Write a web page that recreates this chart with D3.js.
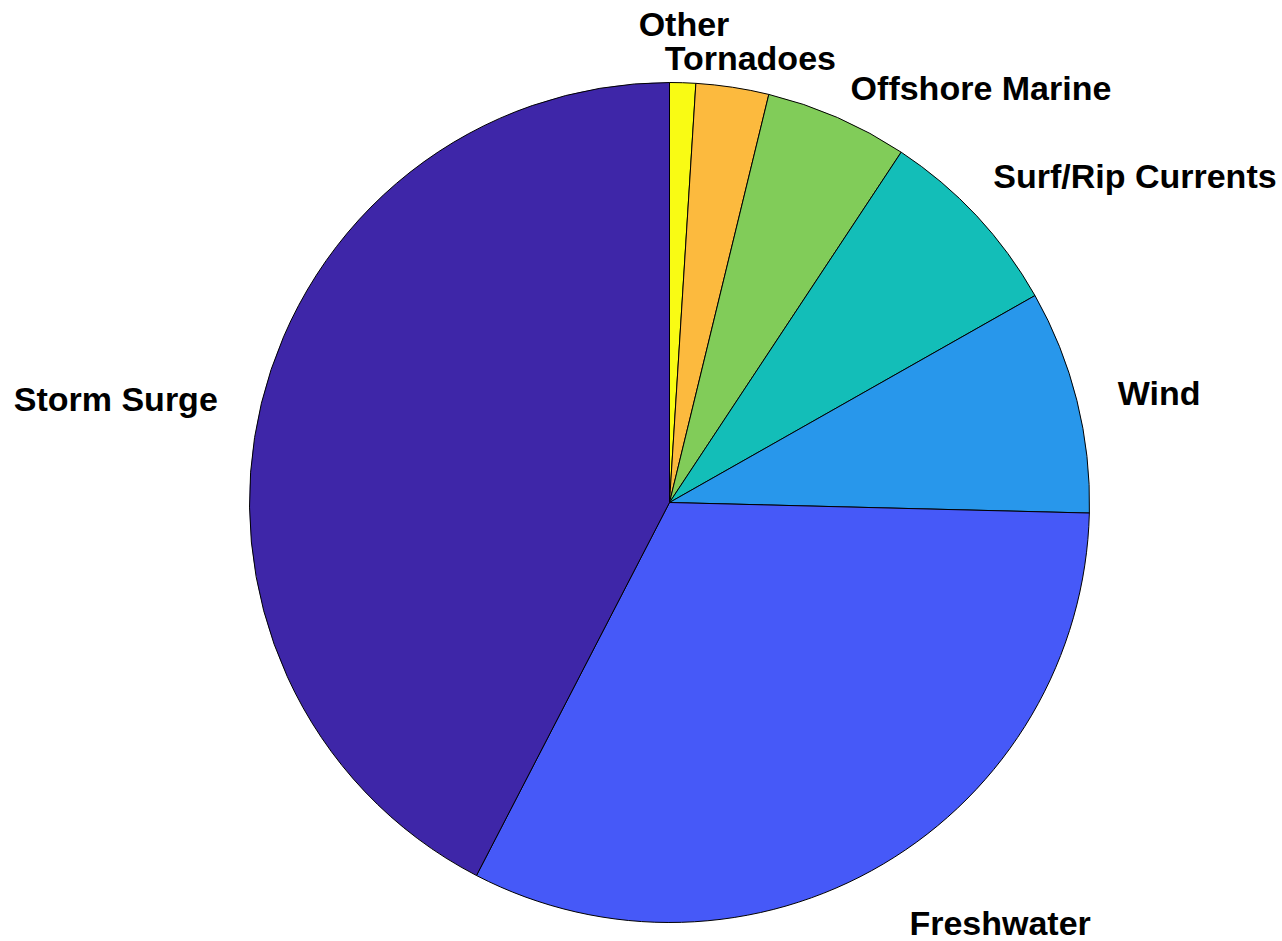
<!DOCTYPE html>
<html>
<head>
<meta charset="utf-8">
<script src="https://cdn.jsdelivr.net/npm/d3@7"></script>
<style>
  html, body { margin: 0; padding: 0; background: #ffffff; }
  svg { display: block; }
  text { font-family: "Liberation Sans", Arial, Helvetica, sans-serif; font-weight: bold; }
</style>
</head>
<body>
<svg id="chart" width="1282" height="941"></svg>
<script>
// ---- data ----
const categories = ["Other", "Tornadoes", "Offshore Marine", "Surf/Rip Currents", "Wind", "Freshwater", "Storm Surge"];
const shares = [1.0, 2.8, 5.5, 7.5, 8.6, 32.2, 42.4];   // percent of deaths

// ---- styles / layout (kept separate from data) ----
const sliceColors = ["#F9FB14", "#FCBA3E", "#81CC59", "#13BEB8", "#2897EB", "#4659F8", "#3E26A8"];
const labelLayout = [
  { anchor: "middle", dx: 0,    dy: -4.7 },
  { anchor: "middle", dx: 11.4, dy: 24.4 },
  { anchor: "start",  dx: -3.7, dy: 21.2 },
  { anchor: "start",  dx: -14,  dy: 1 },
  { anchor: "start",  dx: 0,    dy: 15 },
  { anchor: "start",  dx: 4.7,  dy: 35 },
  { anchor: "end",    dx: -2.8, dy: 17.7 }
];

const W = 1282, H = 941;
const cx = 669.5, cy = 502.5, R = 420;
const labelR = R * 1.1;

const svg = d3.select("#chart");
svg.append("rect").attr("width", W).attr("height", H).attr("fill", "#fff");

const data = categories.map((c, i) => ({ name: c, value: shares[i], idx: i }));

const pie = d3.pie().sort(null).value(d => d.value).startAngle(0).endAngle(2 * Math.PI);
const arcs = pie(data);

const arc = d3.arc().innerRadius(0).outerRadius(R);

const g = svg.append("g").attr("transform", `translate(${cx},${cy})`);

g.selectAll("path.slice")
  .data(arcs)
  .enter().append("path")
  .attr("class", "slice")
  .attr("d", arc)
  .attr("fill", d => sliceColors[d.data.idx])
  .attr("stroke", "#000")
  .attr("stroke-width", 1)
  .attr("stroke-linejoin", "round");

g.selectAll("text.label")
  .data(arcs)
  .enter().append("text")
  .attr("class", "label")
  .attr("x", d => {
    const a = (d.startAngle + d.endAngle) / 2;
    return labelR * Math.sin(a) + labelLayout[d.data.idx].dx;
  })
  .attr("y", d => {
    const a = (d.startAngle + d.endAngle) / 2;
    return -labelR * Math.cos(a) + labelLayout[d.data.idx].dy;
  })
  .attr("text-anchor", d => labelLayout[d.data.idx].anchor)
  .attr("font-size", 34)
  .attr("fill", "#000")
  .text(d => d.data.name);
</script>
</body>
</html>
